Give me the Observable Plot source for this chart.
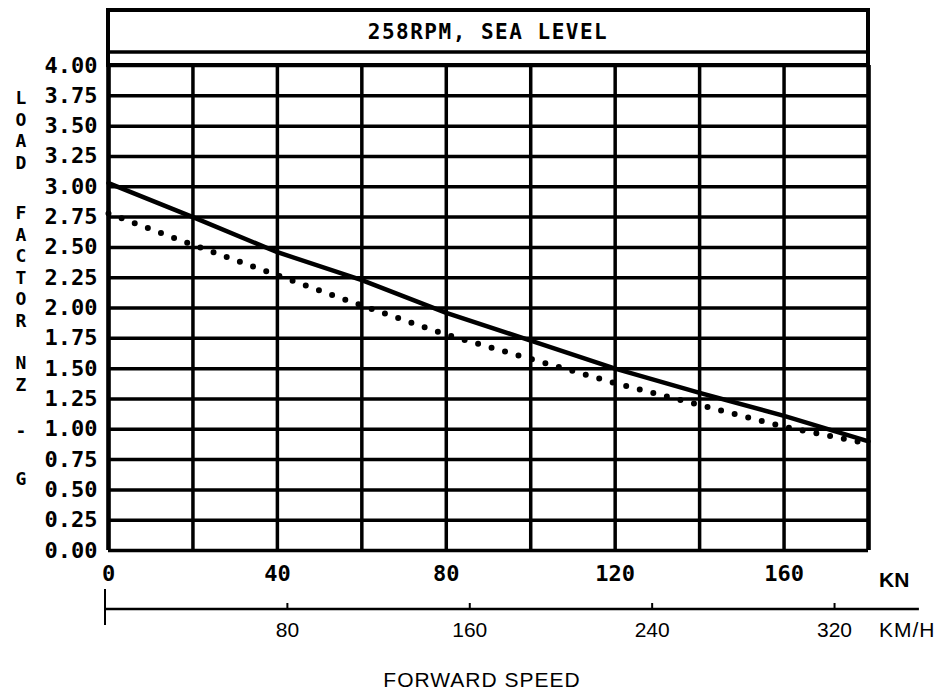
<!DOCTYPE html>
<html>
<head>
<meta charset="utf-8">
<script src="https://cdn.jsdelivr.net/npm/d3@7"></script>
<script src="https://cdn.jsdelivr.net/npm/@observablehq/plot@0.6"></script>
<style>
  html, body { margin: 0; padding: 0; background: #fff; }
  #chart svg { display: block; }
</style>
</head>
<body>
<div id="chart"></div>
<script>
// Load factor envelope vs forward speed, 258 RPM at sea level
const title = "258RPM, SEA LEVEL";
const speedKn = [0, 20, 40, 60, 80, 100, 120, 140, 160, 180];
const loadSolid = [3.03, 2.75, 2.46, 2.23, 1.96, 1.73, 1.50, 1.30, 1.11, 0.90];
const loadDotted = [2.78, 2.52, 2.27, 2.02, 1.78, 1.58, 1.38, 1.20, 1.02, 0.88];
const knTicks = [0, 40, 80, 120, 160];
const kmhTicks = [80, 160, 240, 320];
const kmhAxisEnd = 357;
const KN_TO_KMH = 1.852;
const loadTicks = d3.range(0, 4.001, 0.25);
const speedGrid = d3.range(0, 181, 20);
const yTitleWords = ["LOAD", "FACTOR", "NZ", "-", "G"];

const solid = speedKn.map((s, i) => ({speed: s, load: loadSolid[i]}));
const dotted = speedKn.map((s, i) => ({speed: s, load: loadDotted[i]}));

const MONO = "'DejaVu Sans Mono', monospace";
const SANS = "'Liberation Sans', Arial, sans-serif";

// Title box, secondary km/h scale, unit labels and the stacked y title
function decorations(index, {x, y}) {
  const g = d3.create("svg:g").attr("text-anchor", "start");
  const x0 = x(0), x1 = x(180), yTop = y(4);
  const boxTop = 10, boxBottom = 52;

  g.append("rect")
    .attr("x", x0).attr("y", boxTop)
    .attr("width", x1 - x0).attr("height", yTop - boxTop)
    .attr("fill", "none").attr("stroke", "black").attr("stroke-width", 4);
  g.append("line")
    .attr("x1", x0).attr("x2", x1).attr("y1", boxBottom).attr("y2", boxBottom)
    .attr("stroke", "black").attr("stroke-width", 3.5);
  g.append("text")
    .attr("x", (x0 + x1) / 2).attr("y", (boxTop + boxBottom) / 2 + 1)
    .attr("text-anchor", "middle").attr("dominant-baseline", "central")
    .attr("font-family", MONO).attr("font-weight", "bold")
    .attr("font-size", 21).attr("letter-spacing", 1.5)
    .text(title);

  // knot unit
  g.append("text")
    .attr("x", x1 + 11).attr("y", y(0) + 29)
    .attr("text-anchor", "start").attr("dominant-baseline", "central")
    .attr("font-family", SANS).attr("font-weight", "bold").attr("font-size", 21)
    .text("KN");

  // km/h axis
  const ka = 609;
  const xk = k => x(k / KN_TO_KMH) - 3;
  g.append("line")
    .attr("x1", xk(0)).attr("x2", xk(kmhAxisEnd)).attr("y1", ka).attr("y2", ka)
    .attr("stroke", "black").attr("stroke-width", 2.5);
  g.append("line")
    .attr("x1", xk(0)).attr("x2", xk(0)).attr("y1", ka - 20).attr("y2", ka + 16)
    .attr("stroke", "black").attr("stroke-width", 2);
  g.selectAll("line.kt").data(kmhTicks).join("line")
    .attr("x1", xk).attr("x2", xk).attr("y1", ka - 6).attr("y2", ka)
    .attr("stroke", "black").attr("stroke-width", 2);
  g.selectAll("text.kl").data(kmhTicks).join("text")
    .attr("x", xk).attr("y", ka + 20)
    .attr("text-anchor", "middle").attr("dominant-baseline", "central")
    .attr("font-family", SANS).attr("font-size", 21).attr("font-weight", 500)
    .text(d => d);
  g.append("text")
    .attr("x", x1 + 11).attr("y", ka + 20)
    .attr("text-anchor", "start").attr("dominant-baseline", "central")
    .attr("font-family", SANS).attr("font-size", 21).attr("letter-spacing", 1)
    .text("KM/H");

  // x title
  g.append("text")
    .attr("x", x(90) - 6).attr("y", 679)
    .attr("text-anchor", "middle").attr("dominant-baseline", "central")
    .attr("font-family", SANS).attr("font-size", 21).attr("letter-spacing", 1)
    .text("FORWARD SPEED");

  // stacked y title
  const starts = [97, 212, 362, 430, 478];
  const pitch = 21.5;
  const t = g.append("text")
    .attr("text-anchor", "middle").attr("dominant-baseline", "central")
    .attr("font-family", MONO).attr("font-weight", "bold").attr("font-size", 18);
  yTitleWords.forEach((w, wi) => {
    [...w].forEach((ch, ci) => {
      t.append("tspan").attr("x", 21).attr("y", starts[wi] + ci * pitch).text(ch);
    });
  });
  return g.node();
}

const chart = Plot.plot({
  width: 944,
  height: 693,
  marginLeft: 108,
  marginRight: 76,
  marginTop: 65,
  marginBottom: 143,
  style: {background: "#fff", color: "black"},
  x: {domain: [0, 180]},
  y: {domain: [0, 4]},
  marks: [
    Plot.ruleY(loadTicks, {stroke: "black", strokeWidth: 3.5}),
    Plot.ruleX(speedGrid, {stroke: "black", strokeWidth: 3.5}),
    Plot.ruleX([0, 180], {stroke: "black", strokeWidth: 4.5}),
    Plot.line(solid, {x: "speed", y: "load", stroke: "black", strokeWidth: 4.5}),
    Plot.line(dotted, {x: "speed", y: "load", stroke: "black", strokeWidth: 6,
      strokeDasharray: "0 14", strokeLinecap: "round"}),
    Plot.axisY(loadTicks, {tickSize: 0, tickPadding: 11, tickFormat: d => d.toFixed(2),
      fontSize: 22, fontFamily: MONO, fontWeight: "bold", label: null}),
    Plot.axisX(knTicks, {tickSize: 0, tickPadding: 15, tickFormat: d => String(d),
      fontSize: 22, fontFamily: MONO, fontWeight: "bold", label: null}),
    decorations
  ]
});
document.getElementById("chart").appendChild(chart);
</script>
</body>
</html>
